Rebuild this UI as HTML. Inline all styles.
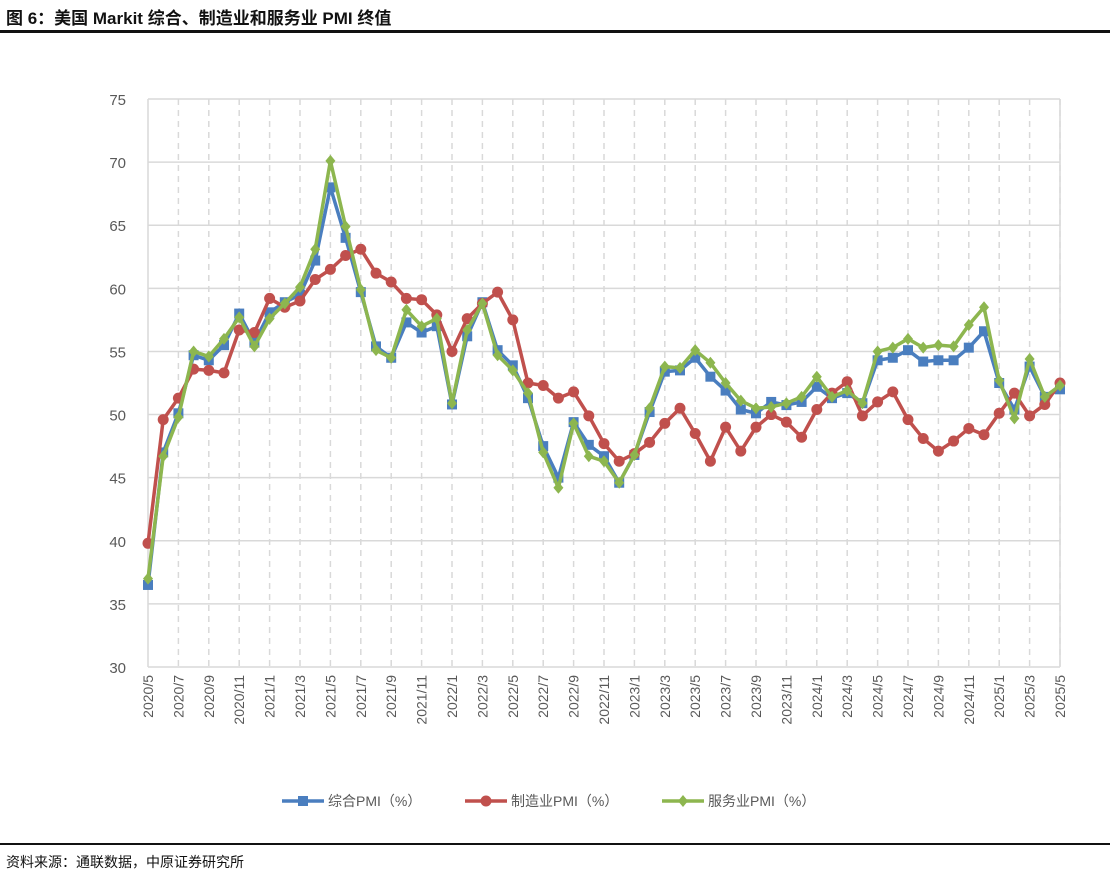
<!DOCTYPE html>
<html><head><meta charset="utf-8">
<style>
body{margin:0;background:#fff;width:1110px;height:877px;overflow:hidden;position:relative;font-family:"Liberation Sans","Noto Sans CJK SC",sans-serif}
#title{position:absolute;left:6px;top:4px;font-size:17px;font-weight:bold;color:#111}
#topline{position:absolute;left:0;top:30px;width:1110px;height:3px;background:#111}
#botline{position:absolute;left:0;top:843px;width:1110px;height:2px;background:#111}
#source{position:absolute;left:6px;top:852px;font-size:14px;color:#111}
svg{position:absolute;left:0;top:0}
</style></head><body>
<div id="title">图 6：美国 Markit 综合、制造业和服务业 PMI 终值</div>
<div id="topline"></div>
<svg id="chart" width="1110" height="877"></svg>
<div id="botline"></div>
<div id="source">资料来源：通联数据，中原证券研究所</div>
<script>
const composite=[36.5,47.0,50.1,54.7,54.3,55.5,58.0,55.7,58.1,58.9,59.5,62.2,68.0,64.0,59.7,55.4,54.5,57.3,56.5,57.0,50.8,56.2,58.9,55.1,53.9,51.3,47.5,45.0,49.4,47.6,46.7,44.6,46.8,50.2,53.4,53.5,54.5,53.0,51.9,50.4,50.1,51.0,50.75,51.0,52.2,51.3,51.7,50.9,54.3,54.5,55.1,54.2,54.3,54.3,55.3,56.6,52.5,50.4,53.8,51.4,52.0];
const manufacturing=[39.8,49.6,51.3,53.6,53.5,53.3,56.7,56.5,59.2,58.5,59.0,60.7,61.5,62.6,63.1,61.2,60.5,59.2,59.1,57.9,55.0,57.6,58.8,59.7,57.5,52.5,52.3,51.3,51.8,49.9,47.7,46.3,46.9,47.8,49.3,50.5,48.5,46.3,49.0,47.1,49.0,50.0,49.4,48.2,50.4,51.7,52.6,49.9,51.0,51.8,49.6,48.1,47.1,47.9,48.9,48.4,50.1,51.7,49.9,50.8,52.5];
const services=[37.0,46.7,49.8,55.0,54.6,56.0,57.7,55.4,57.6,58.8,60.1,63.1,70.1,64.9,59.9,55.1,54.5,58.3,57.0,57.6,50.9,56.7,58.8,54.7,53.5,51.7,47.0,44.2,49.3,46.7,46.3,44.6,46.8,50.5,53.8,53.7,55.1,54.1,52.5,51.1,50.5,50.6,50.9,51.4,53.0,51.4,51.9,50.9,55.0,55.3,56.0,55.3,55.5,55.4,57.1,58.5,52.7,49.7,54.4,51.4,52.3];
const yTicks=[30,35,40,45,50,55,60,65,70,75];
const startYear=2020,startMonth=5,nMonths=61;

const svg=document.getElementById('chart');
const NS='http://www.w3.org/2000/svg';
const X0=148,X1=1060,Y0=667,Y1=99,VMIN=30,VMAX=75;
function xs(i){return X0+(X1-X0)*i/(nMonths-1);}
function ys(v){return Y0-(v-VMIN)/(VMAX-VMIN)*(Y0-Y1);}
function mk(tag,attrs){const e=document.createElementNS(NS,tag);for(const k in attrs)e.setAttribute(k,attrs[k]);svg.appendChild(e);return e;}
function label(i){let m=startMonth-1+i;return (startYear+Math.floor(m/12))+'/'+(m%12+1);}

yTicks.forEach(v=>{
  const l=mk('line',{x1:X0,x2:X1,y1:ys(v),y2:ys(v),stroke:'#d9d9d9','stroke-width':1.5});
  
  
  const t=mk('text',{x:X0-22,y:ys(v)+6,'text-anchor':'end','font-size':15,fill:'#595959','font-family':'Liberation Sans'});
  t.textContent=v;
  
  
});
for(let i=0;i<nMonths;i+=2){
  if(i>0){
    const g=mk('line',{x1:xs(i),x2:xs(i),y1:Y1,y2:Y0,stroke:'#d9d9d9','stroke-width':1.5,'stroke-dasharray':'6,5'});
    
    
  }
  const t=mk('text',{x:0,y:0,'text-anchor':'end','font-size':14,fill:'#595959','font-family':'Liberation Sans',transform:`translate(${xs(i)+5},${Y0+8}) rotate(-90)`});
  t.textContent=label(i);
  
  
}
const ax=mk('line',{x1:X0,x2:X0,y1:Y1,y2:Y0,stroke:'#d9d9d9','stroke-width':1.5});


const ax2=mk('line',{x1:X1,x2:X1,y1:Y1,y2:Y0,stroke:'#d9d9d9','stroke-width':1.5});



function series(data,color,shape,name){
  const pts=data.map((v,i)=>xs(i)+','+ys(v)).join(' ');
  const p=mk('polyline',{points:pts,fill:'none',stroke:color,'stroke-width':3.5,'stroke-linejoin':'round'});
  
  
  data.forEach((v,i)=>{
    const x=xs(i),y=ys(v);let m;
    if(shape==='sq')m=mk('rect',{x:x-5,y:y-5,width:10,height:10,fill:color});
    else if(shape==='c')m=mk('circle',{cx:x,cy:y,r:5.5,fill:color});
    else m=mk('polygon',{points:`${x},${y-6} ${x+5},${y} ${x},${y+6} ${x-5},${y}`,fill:color});
    
    
  });
}
series(composite,'#4a7ebf','sq','composite-pmi');
series(manufacturing,'#c0504d','c','manufacturing-pmi');
series(services,'#8db64f','d','services-pmi');

const legend=[['综合PMI（%）','#4a7ebf','sq',282],['制造业PMI（%）','#c0504d','c',465],['服务业PMI（%）','#8db64f','d',662]];
legend.forEach(([txt,c,s,x])=>{
  const y=801;
  const l=mk('line',{x1:x,x2:x+42,y1:y,y2:y,stroke:c,'stroke-width':3.5});
  
  
  let m;
  if(s==='sq')m=mk('rect',{x:x+16,y:y-5,width:10,height:10,fill:c});
  else if(s==='c')m=mk('circle',{cx:x+21,cy:y,r:5.5,fill:c});
  else m=mk('polygon',{points:`${x+21},${y-6} ${x+26},${y} ${x+21},${y+6} ${x+16},${y}`,fill:c});
  
  
  const t=mk('text',{x:x+46,y:y+5,'font-size':14,fill:'#595959','font-family':'Liberation Sans, Noto Sans CJK SC, sans-serif'});
  t.textContent=txt;
  
  
});
</script>
</body></html>
